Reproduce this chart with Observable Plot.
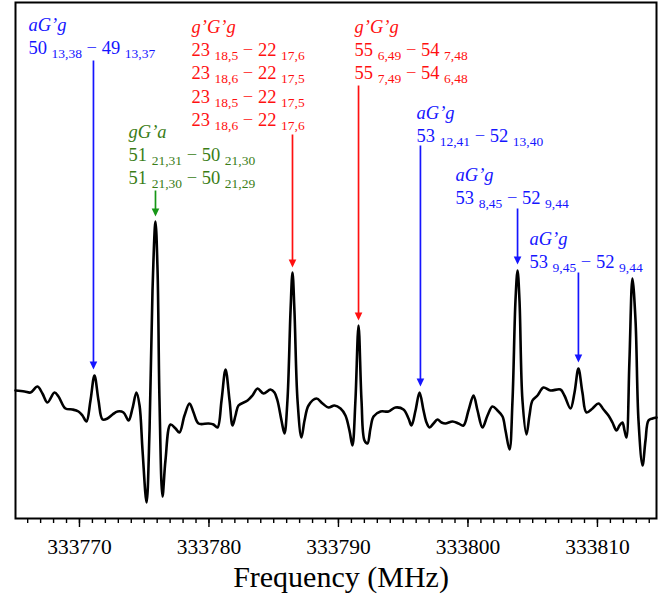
<!DOCTYPE html>
<html><head><meta charset="utf-8">
<script src="https://cdn.jsdelivr.net/npm/d3@7"></script>
<script src="https://cdn.jsdelivr.net/npm/@observablehq/plot@0.6"></script>
<style>body{margin:0;background:#fff}svg{display:block}</style>
</head><body><div id="chart"></div>
<script>
// Spectrum (frequency in MHz, intensity in arbitrary units)
const freqMHz = [333765.06,333765.76,333766.22,333766.76,333767.14,333767.53,333768.07,333768.38,333768.92,333769.46,333769.92,333770.23,333770.54,333770.85,333771.16,333771.47,333771.78,333772.16,333772.55,333772.94,333773.40,333773.79,333774.09,333774.40,333774.64,333774.87,333775.18,333775.41,333775.64,333775.87,333776.03,333776.18,333776.41,333776.64,333777.03,333777.42,333777.72,333778.11,333778.50,333778.81,333779.19,333779.96,333780.35,333780.66,333780.97,333781.28,333781.59,333781.82,333782.05,333782.28,333782.98,333783.36,333783.75,333784.21,333784.75,333785.06,333785.29,333785.60,333785.83,333786.06,333786.30,333786.45,333786.60,333786.84,333787.14,333787.38,333787.69,333788.30,333788.77,333789.23,333789.69,333790.16,333790.54,333790.85,333791.08,333791.31,333791.55,333791.78,333792.01,333792.24,333792.47,333792.71,333793.25,333793.86,333794.40,333795.02,333795.41,333795.64,333795.95,333796.26,333796.57,333796.80,333797.03,333797.34,333797.65,333797.96,333798.26,333798.81,333799.27,333799.65,333800.04,333800.43,333800.74,333801.12,333801.51,333801.89,333802.28,333802.67,333802.90,333803.21,333803.44,333803.67,333803.83,333803.98,333804.21,333804.52,333804.75,333804.98,333805.37,333805.83,333806.37,333807.14,333807.45,333807.92,333808.23,333808.53,333808.84,333809.15,333809.62,333810.08,333810.47,333810.85,333811.16,333811.47,333811.70,333811.93,333812.09,333812.24,333812.47,333812.70,333812.94,333813.17,333813.48,333813.71,333813.94,333814.25,333814.56];
const intensity = [1.0,0.9,0.8,1.4,0.7,-0.2,0.8,0.4,-0.8,-0.9,-1.1,-1.5,-2.1,0.0,2.5,0.0,-1.9,-1.8,-1.4,-1.1,-1.2,-2.0,-0.8,0.8,-0.5,-5.0,-10.2,-3.0,11.0,17.9,13.0,0.0,-9.6,-6.0,-2.4,-2.8,-3.2,-1.5,-0.3,-1.2,-2.3,-2.3,-2.4,-2.7,0.0,3.1,0.0,-2.5,-1.5,-0.5,0.0,0.5,1.2,0.7,1.1,0.8,0.0,-2.0,-3.3,0.0,9.0,12.8,9.0,0.0,-3.7,-2.0,-0.5,0.2,-0.3,-0.7,-0.5,-0.8,-1.5,-3.0,-4.5,0.0,7.5,0.0,-4.0,-4.3,-2.8,-1.6,-1.1,-1.1,-0.7,-0.9,-1.8,-2.5,-1.0,0.8,-1.0,-2.2,-2.7,-2.3,-1.9,-2.2,-2.3,-2.1,-2.3,-2.5,-1.0,0.5,-1.0,-2.7,-1.5,-0.6,-1.0,-1.6,-3.0,-4.9,0.0,10.0,13.0,10.0,0.0,-3.4,-1.5,0.0,0.5,1.3,1.0,1.1,0.5,-0.8,0.8,3.2,0.8,-1.2,-0.8,-0.3,-0.9,-1.5,-2.2,-3.0,-2.5,-2.2,-3.0,-3.7,4.0,12.2,8.0,-2.0,-6.5,-4.0,-2.0,-1.8,-1.7];

// Axis
const majorTicks = [333770, 333780, 333790, 333800, 333810];
const minorTicks = d3.range(333766, 333815, 1);
const axisTitle = "Frequency (MHz)";

// Assignments
const annConformer = ["aG’g", "gG’a", "g’G’g", "g’G’g", "aG’g", "aG’g", "aG’g"];
const annLines = [
  ["50 _{13,38} − 49 _{13,37}"],
  ["51 _{21,31} − 50 _{21,30}", "51 _{21,30} − 50 _{21,29}"],
  ["23 _{18,5} − 22 _{17,6}", "23 _{18,6} − 22 _{17,5}", "23 _{18,5} − 22 _{17,5}", "23 _{18,6} − 22 _{17,6}"],
  ["55 _{6,49} − 54 _{7,48}", "55 _{7,49} − 54 _{6,48}"],
  ["53 _{12,41} − 52 _{13,40}"],
  ["53 _{8,45} − 52 _{9,44}"],
  ["53 _{9,45} − 52 _{9,44}"]
];
const annPeakFreq = [333771.08, 333775.87, 333786.45, 333791.55, 333796.33, 333803.83, 333808.53];
const annTip = [3.1, 18.4, 13.3, 8.0, 1.4, 13.6, 3.8];
const annTop = [33.7, 20.7, 26.3, 31.2, 25.2, 18.9, 12.5];
const annLabelFreq = [333766.06, 333773.79, 333778.65, 333791.24, 333796.03, 333799.04, 333804.75];
const annLabelY = [37.0, 26.3, 36.8, 36.8, 28.2, 22.0, 15.6];
const annTextColor = ["#1515ff", "#3a7d16", "#ff1010", "#ff1010", "#1515ff", "#1515ff", "#1515ff"];
const annArrowColor = ["#1515ff", "#169616", "#ff1010", "#ff1010", "#1515ff", "#1515ff", "#1515ff"];

const FONT = "Liberation Serif";
const spectrum = freqMHz.map((f, i) => ({f, v: intensity[i]}));
const arrows = annPeakFreq.map((f, i) => ({f, tip: annTip[i], top: annTop[i], color: annArrowColor[i]}));
const labelRows = [];
annConformer.forEach((c, i) => {
  labelRows.push({f: annLabelFreq[i], y: annLabelY[i], k: 0, text: c, color: annTextColor[i]});
  annLines[i].forEach((t, j) => labelRows.push({f: annLabelFreq[i], y: annLabelY[i], k: j + 1, text: t, color: annTextColor[i]}));
});

const downHead = {
  draw(ctx) {
    ctx.moveTo(0, 0);
    ctx.lineTo(-3.8, -8);
    ctx.lineTo(3.8, -8);
    ctx.closePath();
  }
};

const lineMarks = [1, 2, 3, 4].map(k => Plot.text(labelRows.filter(r => r.k === k), {
  x: "f", y: "y", text: "text", fill: "color", textAnchor: "start", lineAnchor: "bottom",
  dy: 23.4 * k, fontSize: 18.5, fontFamily: FONT
}));

const chart = Plot.plot({
  width: 670, height: 603,
  marginLeft: 15, marginRight: 14, marginTop: 2, marginBottom: 85,
  style: {background: "#fff", color: "#000"},
  x: {domain: [333765.06, 333814.56], axis: null},
  y: {domain: [-11.8, 39.8], axis: null},
  color: {type: "identity"},
  marks: [
    Plot.axisX(minorTicks, {anchor: "bottom", tickSize: 5, tickFormat: () => "", strokeWidth: 1.4, label: null}),
    Plot.axisX(majorTicks, {anchor: "bottom", tickSize: 9, tickPadding: 11, tickFormat: d3.format("d"), fontSize: 21.5, fontFamily: FONT, strokeWidth: 1.4, label: null}),
    Plot.line(spectrum, {x: "f", y: "v", curve: "catmull-rom", stroke: "black", strokeWidth: 2.6, strokeLinejoin: "round"}),
    Plot.link(arrows, {x1: "f", x2: "f", y1: "top", y2: "tip", stroke: "color", strokeWidth: 1.7, dy: -3}),
    Plot.dot(arrows, {x: "f", y: "tip", symbol: downHead, fill: "color", stroke: null}),
    Plot.text(labelRows.filter(r => r.k === 0), {
      x: "f", y: "y", text: "text", fill: "color", textAnchor: "start", lineAnchor: "bottom",
      fontSize: 18.5, fontStyle: "italic", fontFamily: FONT
    }),
    ...lineMarks,
    Plot.text([axisTitle], {frameAnchor: "bottom", dy: 68, dx: 5, lineAnchor: "bottom", fontSize: 30, fontFamily: FONT}),
    Plot.frame({stroke: "black", strokeWidth: 2})
  ]
});

// render subscripts written as _{...}
d3.select(chart).selectAll("text").each(function() {
  const s = this.textContent;
  if (!s.includes("_{")) return;
  const parts = s.split(/_\{([^}]*)\}/);
  while (this.firstChild) this.removeChild(this.firstChild);
  let shifted = false;
  parts.forEach((p, i) => {
    if (!p) return;
    const t = document.createElementNS("http://www.w3.org/2000/svg", "tspan");
    t.textContent = p;
    if (i % 2 === 1) { t.setAttribute("font-size", "13.5"); t.setAttribute("dy", "4"); shifted = true; }
    else if (shifted) { t.setAttribute("dy", "-4"); shifted = false; }
    this.appendChild(t);
  });
});

document.getElementById("chart").appendChild(chart);
</script></body></html>
